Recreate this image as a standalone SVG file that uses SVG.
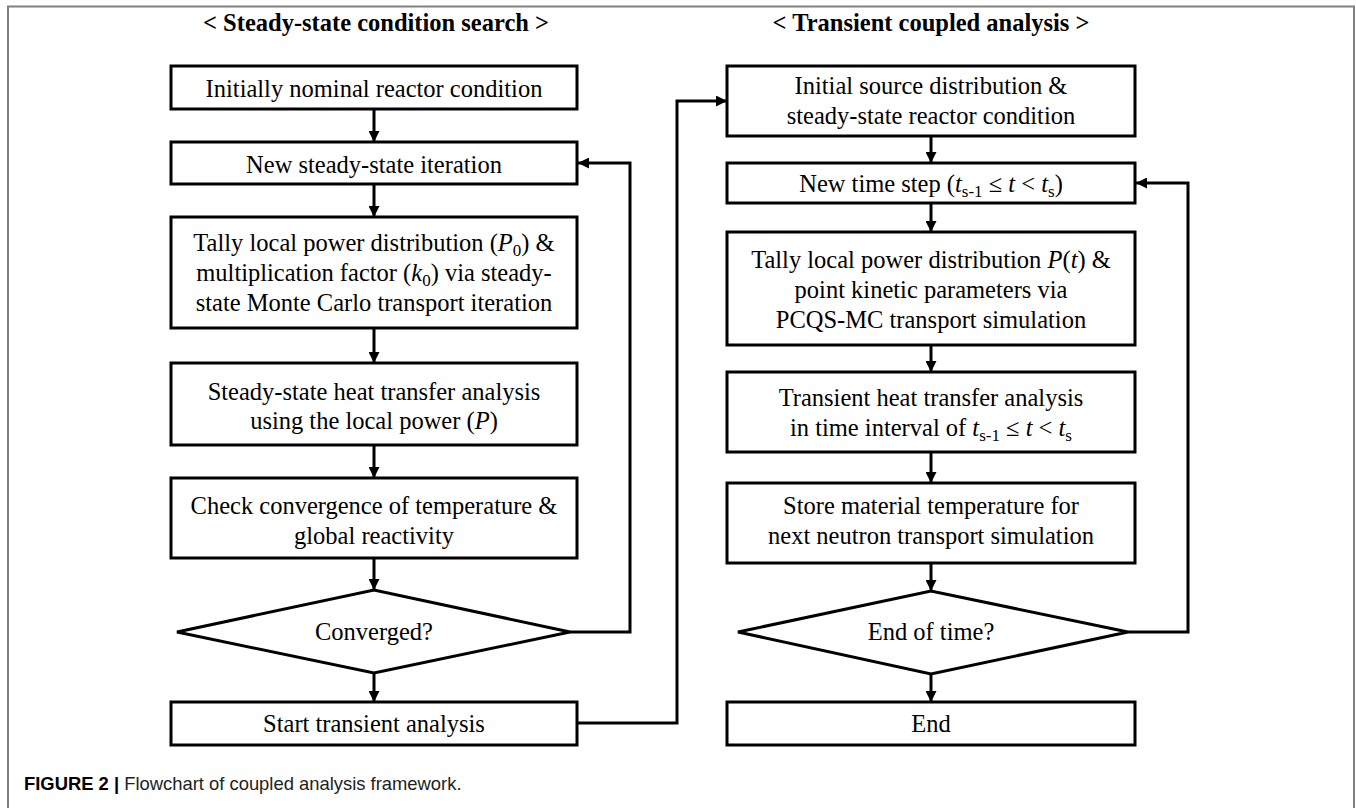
<svg xmlns="http://www.w3.org/2000/svg" width="1356" height="808" viewBox="0 0 1356 808">
<defs>
<style>
.frame{fill:none;stroke:#808080;stroke-width:2}
.box{fill:#fff;stroke:#000;stroke-width:3}
.t{font-family:"Liberation Serif","Times New Roman",serif;font-size:24.5px;fill:#000;text-anchor:middle}
.h{font-family:"Liberation Serif","Times New Roman",serif;font-size:24.5px;font-weight:bold;fill:#000;text-anchor:middle}
.i{font-style:italic}
.c{fill:none;stroke:#000;stroke-width:3}
.cap{font-family:"Liberation Sans",Arial,sans-serif;font-size:18.4px;fill:#222}
</style>
<marker id="ah" markerUnits="userSpaceOnUse" markerWidth="11" markerHeight="11" refX="10" refY="5" orient="auto" viewBox="0 0 10 10">
<path d="M0,0 L10,5 L0,10 z" fill="#000"/>
</marker>
</defs>
<rect width="1356" height="808" fill="#fff"/>
<path class="frame" d="M8,808 V6.5 H1354 V808"/>
<text class="h" x="376" y="31">&lt; Steady-state condition search &gt;</text>
<text class="h" x="931" y="31">&lt; Transient coupled analysis &gt;</text>

<g id="connectors">
<line class="c" x1="374" y1="109" x2="374" y2="142" marker-end="url(#ah)"/>
<line class="c" x1="374" y1="184" x2="374" y2="217" marker-end="url(#ah)"/>
<line class="c" x1="374" y1="328" x2="374" y2="363" marker-end="url(#ah)"/>
<line class="c" x1="374" y1="445" x2="374" y2="478" marker-end="url(#ah)"/>
<line class="c" x1="374" y1="558" x2="374" y2="590" marker-end="url(#ah)"/>
<line class="c" x1="374" y1="673" x2="374" y2="702" marker-end="url(#ah)"/>
<polyline class="c" points="570,632 630,632 630,163 578,163" marker-end="url(#ah)"/>
<polyline class="c" points="577,723 677,723 677,101 727,101" marker-end="url(#ah)"/>
<line class="c" x1="931" y1="136" x2="931" y2="163" marker-end="url(#ah)"/>
<line class="c" x1="931" y1="203" x2="931" y2="232" marker-end="url(#ah)"/>
<line class="c" x1="931" y1="345" x2="931" y2="372" marker-end="url(#ah)"/>
<line class="c" x1="931" y1="452" x2="931" y2="483" marker-end="url(#ah)"/>
<line class="c" x1="931" y1="563" x2="931" y2="591" marker-end="url(#ah)"/>
<line class="c" x1="931" y1="674" x2="931" y2="702" marker-end="url(#ah)"/>
<polyline class="c" points="1128,632 1188,632 1188,183 1136,183" marker-end="url(#ah)"/>
</g>

<g id="n1"><rect class="box" x="171" y="66" width="406" height="43"/>
<text class="t" x="374" y="97">Initially nominal reactor condition</text></g>
<g id="n2"><rect class="box" x="171" y="142" width="406" height="42"/>
<text class="t" x="374" y="173">New steady-state iteration</text></g>
<g id="n3"><rect class="box" x="171" y="217" width="406" height="111"/>
<text class="t" x="374" y="251">Tally local power distribution (<tspan class="i">P</tspan><tspan dy="5" font-size="17">0</tspan><tspan dy="-5">) &amp;</tspan></text>
<text class="t" x="374" y="281">multiplication factor (<tspan class="i">k</tspan><tspan dy="5" font-size="17">0</tspan><tspan dy="-5">) via steady-</tspan></text>
<text class="t" x="374" y="311">state Monte Carlo transport iteration</text></g>
<g id="n4"><rect class="box" x="171" y="363" width="406" height="82"/>
<text class="t" x="374" y="400">Steady-state heat transfer analysis</text>
<text class="t" x="374" y="429">using the local power (<tspan class="i">P</tspan>)</text></g>
<g id="n5"><rect class="box" x="171" y="478" width="406" height="80"/>
<text class="t" x="374" y="514">Check convergence of temperature &amp;</text>
<text class="t" x="374" y="544">global reactivity</text></g>
<g id="n6"><polygon class="box" points="177,632 374,590 570,632 374,673"/>
<text class="t" x="374" y="640">Converged?</text></g>
<g id="n7"><rect class="box" x="171" y="702" width="406" height="43"/>
<text class="t" x="374" y="732">Start transient analysis</text></g>

<g id="r1"><rect class="box" x="727" y="66" width="408" height="70"/>
<text class="t" x="931" y="94">Initial source distribution &amp;</text>
<text class="t" x="931" y="124">steady-state reactor condition</text></g>
<g id="r2"><rect class="box" x="727" y="163" width="408" height="40"/>
<text class="t" x="931" y="192">New time step (<tspan class="i">t</tspan><tspan dy="5" font-size="17">s-1</tspan><tspan dy="-5"> ≤ </tspan><tspan class="i">t</tspan> &lt; <tspan class="i">t</tspan><tspan dy="5" font-size="17">s</tspan><tspan dy="-5">)</tspan></text></g>
<g id="r3"><rect class="box" x="727" y="232" width="408" height="113"/>
<text class="t" x="931" y="268">Tally local power distribution <tspan class="i">P</tspan>(<tspan class="i">t</tspan>) &amp;</text>
<text class="t" x="931" y="298">point kinetic parameters via</text>
<text class="t" x="931" y="328">PCQS-MC transport simulation</text></g>
<g id="r4"><rect class="box" x="727" y="372" width="408" height="80"/>
<text class="t" x="931" y="406">Transient heat transfer analysis</text>
<text class="t" x="931" y="436">in time interval of <tspan class="i">t</tspan><tspan dy="5" font-size="17">s-1</tspan><tspan dy="-5"> ≤ </tspan><tspan class="i">t</tspan> &lt; <tspan class="i">t</tspan><tspan dy="5" font-size="17">s</tspan></text></g>
<g id="r5"><rect class="box" x="727" y="483" width="408" height="80"/>
<text class="t" x="931" y="514">Store material temperature for</text>
<text class="t" x="931" y="544">next neutron transport simulation</text></g>
<g id="r6"><polygon class="box" points="738,632 931,591 1128,632 931,674"/>
<text class="t" x="931" y="640">End of time?</text></g>
<g id="r7"><rect class="box" x="727" y="702" width="408" height="43"/>
<text class="t" x="931" y="732">End</text></g>

<text class="cap" x="24" y="790"><tspan font-weight="bold" fill="#000">FIGURE 2 |</tspan> Flowchart of coupled analysis framework.</text>
</svg>
